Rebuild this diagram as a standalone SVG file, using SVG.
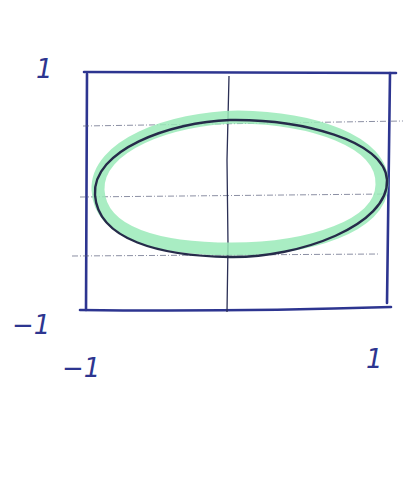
<svg xmlns="http://www.w3.org/2000/svg" width="405" height="477" viewBox="0 0 405 477">
<style>
.frame{fill:none;stroke:#2d3590;stroke-width:2.6;stroke-linecap:round}
.guide{fill:none;stroke:#5a5f7c;stroke-width:1;stroke-dasharray:6 2 1 2;opacity:0.7}
.axis{fill:none;stroke:#2b2f55;stroke-width:1.3}
.hl{fill:none;stroke:#9aeab9;stroke-width:13;opacity:0.85}
.curve{fill:none;stroke:#262b4a;stroke-width:2.4}
.lbl{font-family:"DejaVu Sans",sans-serif;font-size:26px;fill:#2d3590;font-style:italic}
</style>
<rect width="405" height="477" fill="#ffffff"/>
<g id="frame">
<path class="frame" d="M84 72 L396 73"/>
<path class="frame" d="M87 74 L86 310"/>
<path class="frame" d="M390 73 L387 303"/>
<path class="frame" d="M80 310 Q230 312 391 307"/>
</g>
<g id="guides">
<path class="guide" d="M83 126 L403 121"/>
<path class="guide" d="M80 197 L388 194"/>
<path class="guide" d="M72 256 L380 254"/>
<path class="axis" d="M229 76 L227 160 L228 245 L227 312"/>
</g>
<g id="ellipse">
<path class="hl" d="M98 190 C96 146 170 118 238 117 C310 118 384 140 382 185 C381 226 310 249 232 249 C160 249 100 234 98 190 Z"/>
<path class="curve" d="M95 195 C92 150 170 122 230 120 C300 119 385 140 387 180 C389 225 300 258 230 257 C160 256 98 240 95 195 Z"/>
</g>
<g id="labels">
<text class="lbl" x="36" y="78">1</text>
<text class="lbl" x="12" y="334">−1</text>
<text class="lbl" x="62" y="377">−1</text>
<text class="lbl" x="366" y="368">1</text>
</g>
</svg>
